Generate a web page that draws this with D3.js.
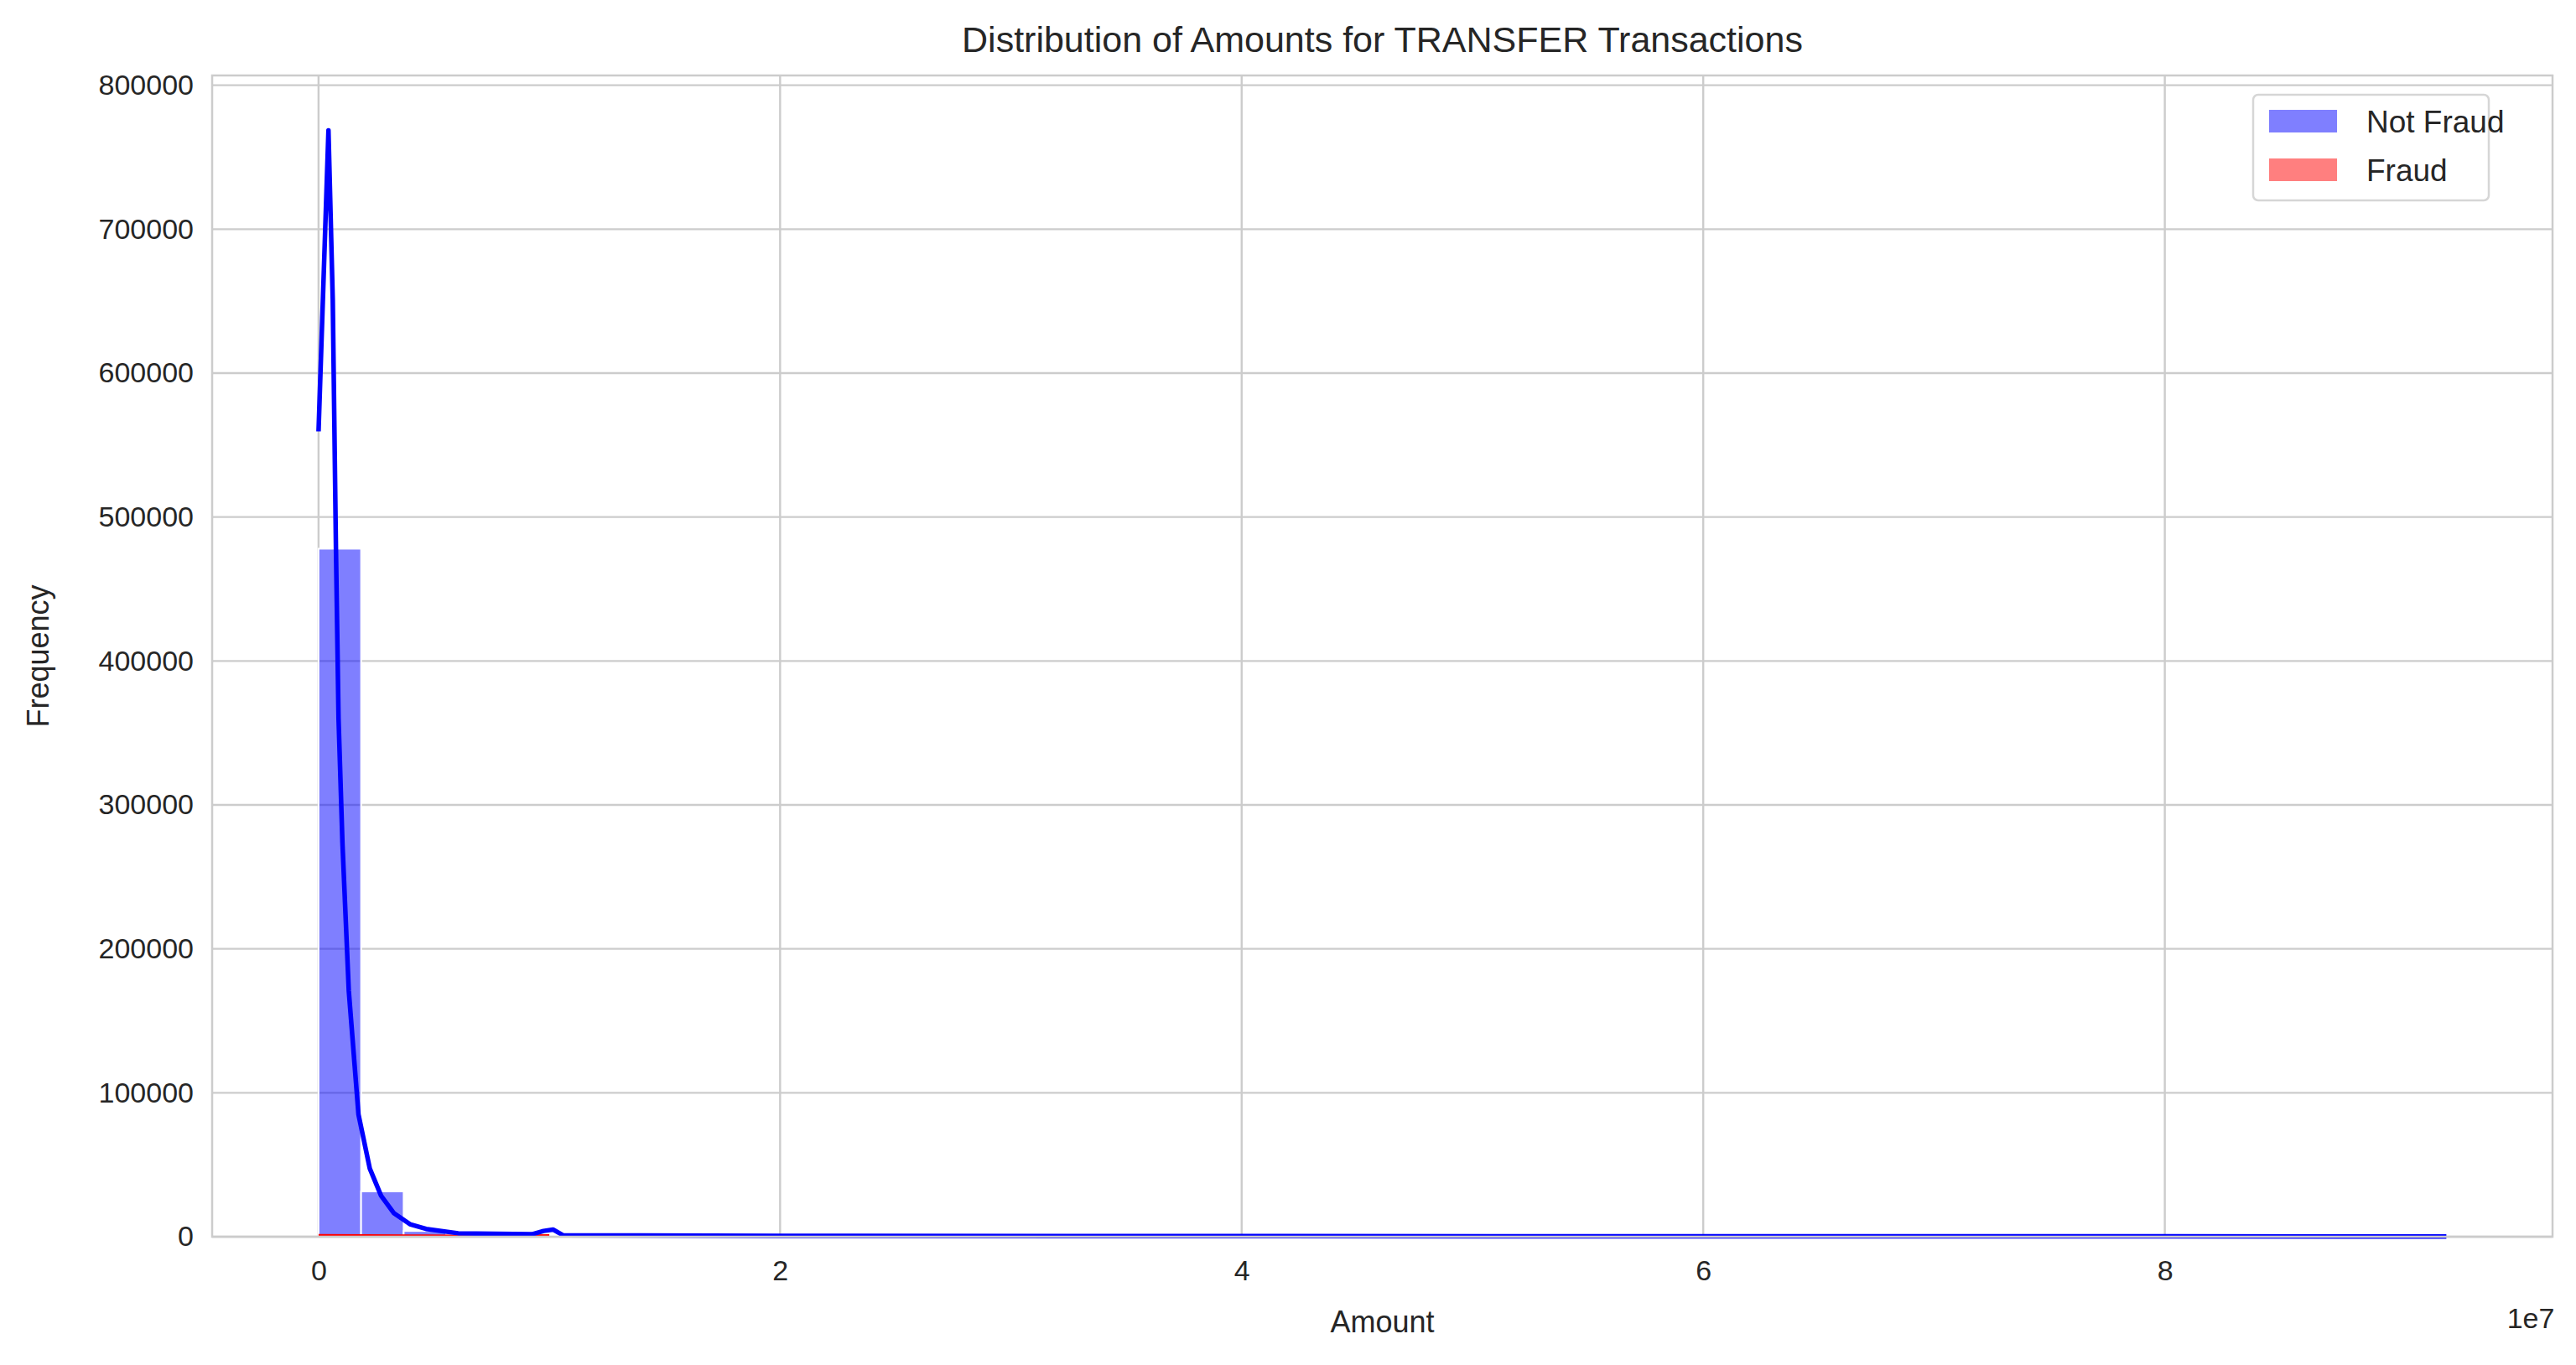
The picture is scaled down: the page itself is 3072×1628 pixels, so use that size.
<!DOCTYPE html>
<html>
<head>
<meta charset="utf-8">
<script src="https://cdn.jsdelivr.net/npm/d3@7/dist/d3.min.js"></script>
<style>
  body { margin: 0; background: #fff; }
  text { font-family: "Liberation Sans", Arial, sans-serif; fill: #262626; }
</style>
</head>
<body>
<div id="chart"></div>
<script>
// histogram bins (50 bins each), counts
var amountMax = 9.22e7;
var notFraudCounts = [478000, 31500, 4000, 1500, 700, 400, 250, 150, 100, 80, 60, 45, 35, 28, 22, 18, 14, 11, 9, 7,
  6, 5, 4, 3, 3, 2, 2, 2, 1, 1, 1, 1, 1, 1, 1, 0, 0, 1, 0, 0, 0, 0, 1, 0, 0, 0, 0, 0, 0, 1];
var fraudMax = 1.0e7;
var fraudCounts = [300, 260, 230, 200, 180, 160, 150, 140, 130, 120, 110, 100, 95, 90, 85, 80, 75, 70, 65, 60,
  58, 55, 52, 50, 48, 46, 44, 42, 40, 38, 36, 34, 32, 30, 28, 27, 26, 25, 24, 23, 22, 21, 20, 19, 18, 17, 16, 16, 15, 300];
// KDE curve points [amount, density scaled to counts]
var notFraudKde = [[0, 559500], [0.043e7, 768600], [0.0616e7, 651000], [0.0754e7, 478600], [0.0867e7, 360000],
  [0.1035e7, 273800], [0.131e7, 171000], [0.173e7, 85000], [0.222e7, 47400], [0.271e7, 28500], [0.327e7, 16300],
  [0.396e7, 8700], [0.466e7, 5400], [0.605e7, 2400], [0.925e7, 1700], [0.975e7, 4000], [1.016e7, 5000],
  [1.06e7, 1000], [2e7, 600], [4e7, 400], [6e7, 300], [8e7, 250], [9.22e7, 200]];
var fraudKde = [[0, 900], [0.2e7, 700], [0.4e7, 600], [0.6e7, 500], [0.8e7, 500], [1.0e7, 700]];
var xTicks = [0, 2e7, 4e7, 6e7, 8e7];
var yTicks = [0, 100000, 200000, 300000, 400000, 500000, 600000, 700000, 800000];

var W = 3072, H = 1628;
var m = { left: 253, right: 3044, top: 90, bottom: 1475 };

var svg = d3.select("#chart").append("svg").attr("width", W).attr("height", H);

var x = d3.scaleLinear().domain([-0.461e7, 9.68e7]).range([m.left, m.right]);
var y = d3.scaleLinear().domain([0, 806800]).range([m.bottom, m.top]);

// grid
svg.append("g").selectAll("line").data(yTicks).join("line")
  .attr("x1", m.left).attr("x2", m.right).attr("y1", d => y(d)).attr("y2", d => y(d))
  .attr("stroke", "#cccccc").attr("stroke-width", 2.4);
svg.append("g").selectAll("line").data(xTicks).join("line")
  .attr("y1", m.top).attr("y2", m.bottom).attr("x1", d => x(d)).attr("x2", d => x(d))
  .attr("stroke", "#cccccc").attr("stroke-width", 2.4);

function drawBars(counts, max, color) {
  var bw = max / counts.length;
  svg.append("g").selectAll("rect").data(counts).join("rect")
    .attr("x", (d, i) => x(i * bw))
    .attr("width", (d, i) => x((i + 1) * bw) - x(i * bw))
    .attr("y", d => y(d))
    .attr("height", d => y(0) - y(d))
    .attr("fill", color).attr("fill-opacity", 0.5)
    .attr("stroke", "#fff").attr("stroke-width", d => d > 0 ? 2 : 0);
}
drawBars(notFraudCounts, amountMax, "blue");
drawBars(fraudCounts, fraudMax, "red");

var line = d3.line().x(d => x(d[0])).y(d => y(d[1]));
svg.append("path").datum(fraudKde).attr("d", line)
  .attr("fill", "none").attr("stroke", "red").attr("stroke-width", 3.5);
svg.append("path").datum(notFraudKde).attr("d", line)
  .attr("fill", "none").attr("stroke", "blue").attr("stroke-width", 5.5).attr("stroke-linejoin", "round");

// frame
svg.append("rect").attr("x", m.left).attr("y", m.top)
  .attr("width", m.right - m.left).attr("height", m.bottom - m.top)
  .attr("fill", "none").attr("stroke", "#cccccc").attr("stroke-width", 2.5);

// axes
var xAxis = svg.append("g").attr("transform", "translate(0," + m.bottom + ")")
  .call(d3.axisBottom(x).tickValues(xTicks).tickSize(0).tickPadding(28).tickFormat(d => d / 1e7));
var yAxis = svg.append("g").attr("transform", "translate(" + m.left + ",0)")
  .call(d3.axisLeft(y).tickValues(yTicks).tickSize(0).tickPadding(22).tickFormat(d3.format("d")));
[xAxis, yAxis].forEach(a => {
  a.select(".domain").remove();
  a.selectAll("text").attr("font-size", 34).attr("fill", "#262626")
    .attr("font-family", "'Liberation Sans', Arial, sans-serif");
});

svg.append("text").attr("x", 3018).attr("y", 1584).attr("text-anchor", "middle").attr("font-size", 34).text("1e7");
svg.append("text").attr("x", (m.left + m.right) / 2).attr("y", 1589).attr("text-anchor", "middle")
  .attr("font-size", 36).text("Amount");
svg.append("text").attr("transform", "translate(58," + ((m.top + m.bottom) / 2) + ") rotate(-90)")
  .attr("text-anchor", "middle").attr("font-size", 36).text("Frequency");
svg.append("text").attr("x", (m.left + m.right) / 2).attr("y", 62).attr("text-anchor", "middle")
  .attr("font-size", 43).text("Distribution of Amounts for TRANSFER Transactions");

// legend
var lg = svg.append("g");
lg.append("rect").attr("x", 2687).attr("y", 113).attr("width", 281).attr("height", 126).attr("rx", 6)
  .attr("fill", "#fff").attr("fill-opacity", 0.8).attr("stroke", "#d6d6d6").attr("stroke-width", 2.5);
var items = [["Not Fraud", "blue", 131], ["Fraud", "red", 189]];
items.forEach(it => {
  lg.append("rect").attr("x", 2706).attr("y", it[2]).attr("width", 81).attr("height", 27)
    .attr("fill", it[1]).attr("fill-opacity", 0.5);
  lg.append("text").attr("x", 2822).attr("y", it[2] + 27).attr("font-size", 37).text(it[0]);
});
</script>
</body>
</html>
